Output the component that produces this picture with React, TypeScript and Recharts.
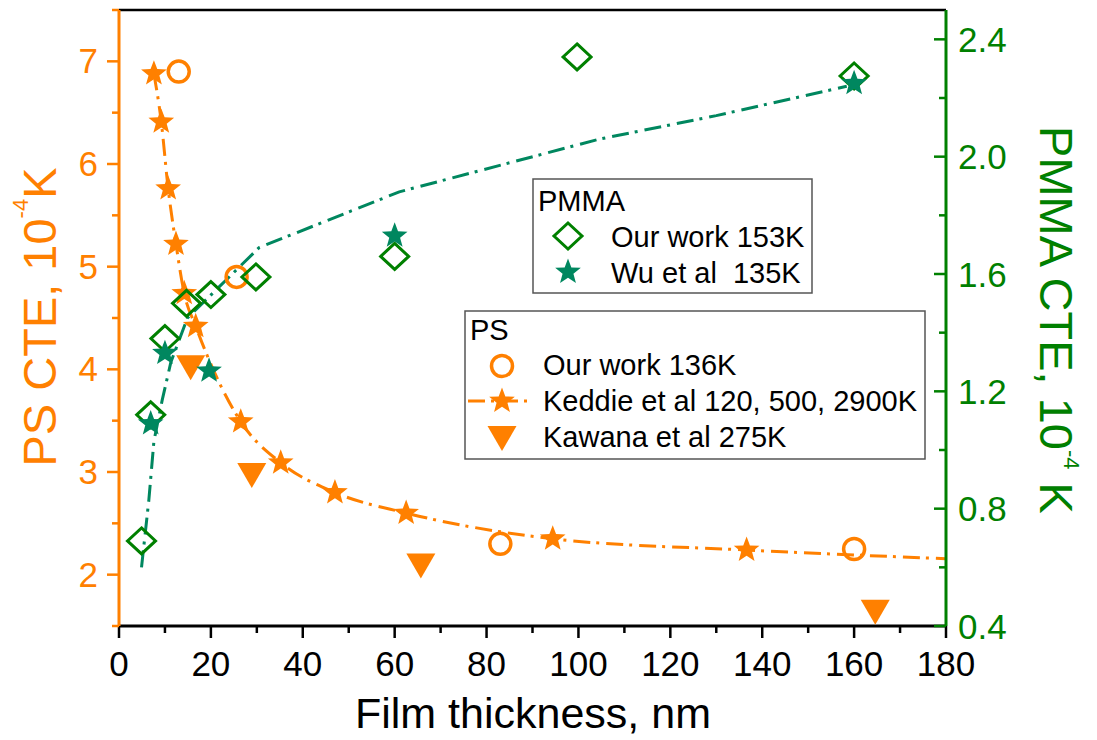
import React from "react";
import { ComposedChart, Scatter, Line, XAxis, YAxis } from "recharts";

const ORANGE = "#FF8000";
const GREEN = "#008000";
const TEAL = "#00875F";
const FONT = '"Liberation Sans", Arial, sans-serif';

// film thickness (nm) -> CTE
// PS, left axis (10^-4 K)
const psOurWork = [
  { x: 13, y: 6.9 },
  { x: 25.6, y: 4.9 },
  { x: 83, y: 2.3 },
  { x: 160, y: 2.25 },
];
const psKeddie = [
  { x: 7.6, y: 6.88 },
  { x: 9.2, y: 6.41 },
  { x: 10.7, y: 5.76 },
  { x: 12.4, y: 5.22 },
  { x: 14.2, y: 4.74 },
  { x: 16.7, y: 4.42 },
  { x: 26.5, y: 3.49 },
  { x: 35.2, y: 3.09 },
  { x: 47, y: 2.8 },
  { x: 62.5, y: 2.6 },
  { x: 94.4, y: 2.35 },
  { x: 136.6, y: 2.24 },
];
const psKeddieTail = [{ x: 180, y: 2.155 }];
const psKawana = [
  { x: 15.6, y: 4.02 },
  { x: 28.9, y: 2.97 },
  { x: 65.7, y: 2.09 },
  { x: 164.6, y: 1.64 },
];

// PMMA, right axis (10^-4 K)
const pmmaOurWork = [
  { x: 4.9, y: 0.69 },
  { x: 6.9, y: 1.12 },
  { x: 10, y: 1.38 },
  { x: 14.7, y: 1.5 },
  { x: 20, y: 1.53 },
  { x: 29.8, y: 1.59 },
  { x: 60, y: 1.66 },
  { x: 99.7, y: 2.34 },
  { x: 160, y: 2.275 },
];
const pmmaWu = [
  { x: 6.9, y: 1.09 },
  { x: 10, y: 1.33 },
  { x: 19.6, y: 1.27 },
  { x: 60, y: 1.73 },
  { x: 160, y: 2.25 },
];
const pmmaFit = [
  { x: 4.9, y: 0.6 },
  { x: 6.5, y: 0.83 },
  { x: 7.6, y: 1.03 },
  { x: 9.4, y: 1.17 },
  { x: 11.3, y: 1.3 },
  { x: 14.9, y: 1.45 },
  { x: 30.5, y: 1.69 },
  { x: 61, y: 1.88 },
  { x: 104.6, y: 2.06 },
  { x: 130, y: 2.14 },
  { x: 158.4, y: 2.24 },
];

const xTicks = [0, 10, 20, 30, 40, 50, 60, 70, 80, 90, 100, 110, 120, 130, 140, 150, 160, 170, 180];
const psTicks = [1.5, 2, 2.5, 3, 3.5, 4, 4.5, 5, 5.5, 6, 6.5, 7, 7.5];
const pmmaTicks = [0.4, 0.6, 0.8, 1.0, 1.2, 1.4, 1.6, 1.8, 2.0, 2.2, 2.4];

function starPath(cx: number, cy: number, R: number, r: number) {
  let d = "";
  for (let i = 0; i < 10; i++) {
    const rad = i % 2 === 0 ? R : r;
    const a = -Math.PI / 2 + (i * Math.PI) / 5;
    d += (i === 0 ? "M" : "L") + (cx + rad * Math.cos(a)).toFixed(2) + "," + (cy + rad * Math.sin(a)).toFixed(2);
  }
  return d + "Z";
}

const Star = ({ cx, cy, color }: any) => <path d={starPath(cx, cy, 13.5, 5.7)} fill={color} />;
const OpenCircle = ({ cx, cy }: any) => (
  <circle cx={cx} cy={cy} r={10.5} fill="none" stroke={ORANGE} strokeWidth={3.5} />
);
const Diamond = ({ cx, cy }: any) => (
  <path
    d={`M${cx},${cy - 13}L${cx + 14},${cy}L${cx},${cy + 13}L${cx - 14},${cy}Z`}
    fill="none"
    stroke={GREEN}
    strokeWidth={3}
  />
);
const DownTriangle = ({ cx, cy }: any) => (
  <path d={`M${cx - 14.5},${cy - 12}L${cx + 14.5},${cy - 12}L${cx},${cy + 13}Z`} fill={ORANGE} />
);

const isMajor = (v: number, step: number) => Math.abs(v / step - Math.round(v / step)) < 1e-6;

const BottomTick = ({ x, y, payload }: any) => {
  const major = isMajor(payload.value, 20);
  return (
    <g>
      <line x1={x} x2={x} y1={y} y2={y + (major ? 12 : 7)} stroke="#000" strokeWidth={2.5} />
      {major && (
        <text x={x} y={y + 50} textAnchor="middle" fontSize={35} fontFamily={FONT} fill="#000">
          {payload.value}
        </text>
      )}
    </g>
  );
};

const TopTick = ({ x, y, payload }: any) => {
  const major = isMajor(payload.value, 20);
  return <line x1={x} x2={x} y1={y} y2={y + (major ? 12 : 7)} stroke="#000" strokeWidth={2.5} />;
};

const LeftTick = ({ x, y, payload }: any) => {
  const major = isMajor(payload.value, 1);
  return (
    <g>
      <line x1={x - (major ? 12 : 7)} x2={x} y1={y} y2={y} stroke={ORANGE} strokeWidth={2.5} />
      {major && (
        <text x={x - 21} y={y + 12} textAnchor="end" fontSize={35} fontFamily={FONT} fill={ORANGE}>
          {payload.value}
        </text>
      )}
    </g>
  );
};

const RightTick = ({ x, y, payload }: any) => {
  const major = isMajor(payload.value, 0.4);
  return (
    <g>
      <line x1={x - (major ? 12 : 7)} x2={x} y1={y} y2={y} stroke={GREEN} strokeWidth={2.5} />
      {major && (
        <text x={x + 12} y={y + 12.5} textAnchor="start" fontSize={35} fontFamily={FONT} fill={GREEN}>
          {payload.value.toFixed(1)}
        </text>
      )}
    </g>
  );
};

export default function App() {
  return (
    <div style={{ position: "absolute", left: 0, top: 0, width: 1097, height: 740, background: "#fff" }}>
      <ComposedChart width={1097} height={740} margin={{ top: 9, right: 0, bottom: 0, left: 0 }}>
        <XAxis
          dataKey="x"
          type="number"
          domain={[0, 180]}
          ticks={xTicks}
          interval={0}
          allowDataOverflow
          height={114}
          tickSize={0}
          tickMargin={0}
          tickLine={false}
          tick={<BottomTick />}
          axisLine={{ stroke: "#000", strokeWidth: 3 }}
        />
        <XAxis
          xAxisId="top"
          orientation="top"
          type="number"
          domain={[0, 180]}
          ticks={xTicks}
          interval={0}
          allowDataOverflow
          height={1}
          tickSize={0}
          tickMargin={0}
          tickLine={false}
          tick={<TopTick />}
          axisLine={{ stroke: "#000", strokeWidth: 2.5 }}
        />
        <YAxis
          yAxisId="l"
          type="number"
          domain={[1.5, 7.5]}
          ticks={psTicks}
          interval={0}
          allowDataOverflow
          width={119}
          tickSize={0}
          tickMargin={0}
          tickLine={false}
          tick={<LeftTick />}
          axisLine={{ stroke: ORANGE, strokeWidth: 3 }}
        />
        <YAxis
          yAxisId="r"
          orientation="right"
          type="number"
          domain={[0.4, 2.5]}
          ticks={pmmaTicks}
          interval={0}
          allowDataOverflow
          width={151}
          tickSize={0}
          tickMargin={0}
          tickLine={false}
          tick={<RightTick />}
          axisLine={{ stroke: GREEN, strokeWidth: 3 }}
        />

        <Line
          yAxisId="l"
          data={[...psKeddie, ...psKeddieTail]}
          dataKey="y"
          type="monotone"
          stroke={ORANGE}
          strokeWidth={3}
          strokeDasharray="17 6 3 7"
          dot={false}
          activeDot={false}
          isAnimationActive={false}
        />
        <Scatter yAxisId="l" data={psKeddie} dataKey="y" shape={(p: any) => <Star {...p} color={ORANGE} />} isAnimationActive={false} />
        <Scatter yAxisId="l" data={psOurWork} dataKey="y" shape={(p: any) => <OpenCircle {...p} />} isAnimationActive={false} />
        <Scatter yAxisId="l" data={psKawana} dataKey="y" shape={(p: any) => <DownTriangle {...p} />} isAnimationActive={false} />

        <Line
          yAxisId="r"
          data={pmmaFit}
          dataKey="y"
          type="linear"
          stroke={TEAL}
          strokeWidth={3}
          strokeDasharray="17 6 3 7"
          dot={false}
          activeDot={false}
          isAnimationActive={false}
        />
        <Scatter yAxisId="r" data={pmmaOurWork} dataKey="y" shape={(p: any) => <Diamond {...p} />} isAnimationActive={false} />
        <Scatter yAxisId="r" data={pmmaWu} dataKey="y" shape={(p: any) => <Star {...p} color={TEAL} />} isAnimationActive={false} />
      </ComposedChart>

      <svg
        width={1097}
        height={740}
        style={{ position: "absolute", left: 0, top: 0, pointerEvents: "none" }}
        fontFamily={FONT}
      >
        {/* axis titles */}
        <text transform="translate(56,317) rotate(-90)" textAnchor="middle" fontSize={47} fill={ORANGE}>
          PS CTE, 10
          <tspan dy={-28} fontSize={22}>-4</tspan>
          <tspan dy={28}>K</tspan>
        </text>
        <text transform="translate(1040,320) rotate(90)" textAnchor="middle" fontSize={47} fill={GREEN} style={{ whiteSpace: "pre" }}>
          PMMA CTE, 10
          <tspan dy={-24} fontSize={22}>-4</tspan>
          <tspan dy={24}> K</tspan>
        </text>
        <text x={533} y={728} textAnchor="middle" fontSize={43} fill="#000">
          Film thickness, nm
        </text>

        {/* PMMA legend */}
        <rect x={533} y={179} width={279} height={114} fill="#fff" stroke="#555" strokeWidth={1.5} />
        <text x={538} y={211} fontSize={29} fill="#000">PMMA</text>
        <Diamond cx={568} cy={236} />
        <text x={611} y={247} fontSize={29} fill="#000">Our work 153K</text>
        <Star cx={568} cy={272} color={TEAL} />
        <text x={611} y={283} fontSize={29} fill="#000" style={{ whiteSpace: "pre" }}>Wu et al  135K</text>

        {/* PS legend */}
        <rect x={465} y={311} width={460} height={148} fill="#fff" stroke="#555" strokeWidth={1.5} />
        <text x={470} y={340} fontSize={29} fill="#000">PS</text>
        <OpenCircle cx={502} cy={366} />
        <text x={543} y={375} fontSize={29} fill="#000">Our work 136K</text>
        <line x1={468} x2={534} y1={401} y2={401} stroke={ORANGE} strokeWidth={3} strokeDasharray="17 6 3 7" />
        <Star cx={502} cy={401} color={ORANGE} />
        <text x={543} y={411} fontSize={29} fill="#000">Keddie et al 120, 500, 2900K</text>
        <DownTriangle cx={502} cy={438} />
        <text x={543} y={447} fontSize={29} fill="#000">Kawana et al 275K</text>
      </svg>
    </div>
  );
}
